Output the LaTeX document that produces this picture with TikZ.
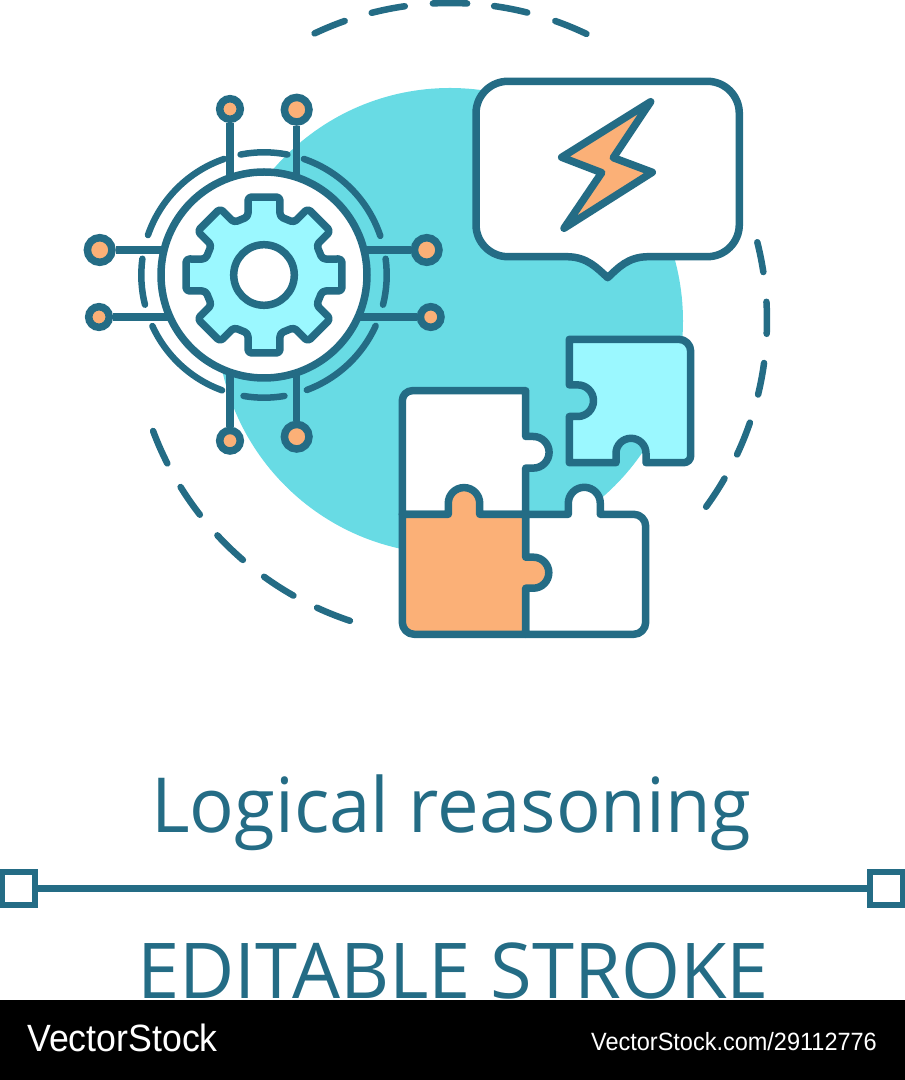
\documentclass[tikz,border=0pt]{standalone}
\usepackage{fontspec}
\setmainfont{Open Sans}
\newfontfamily\titlefont{Open Sans}[FakeStretch=0.977]
\newfontfamily\strokefont{Open Sans}[FakeStretch=0.985]
\newfontfamily\stockfont{Liberation Sans}[FakeStretch=0.94]
\definecolor{tealline}{HTML}{246C85}
\definecolor{discblue}{HTML}{68DBE4}
\definecolor{paleblue}{HTML}{9BF8FF}
\definecolor{softorange}{HTML}{FBB077}
\tikzset{
    outline/.style={draw=tealline, line width=7.5pt, line join=round, line cap=round},
    thinarc/.style={draw=tealline, line width=6.5pt, line cap=round},
    pinbig/.style={circle, draw=tealline, line width=7.5pt, fill=softorange, inner sep=0pt, minimum size=24.6pt},
    pinsmall/.style={circle, draw=tealline, line width=7.5pt, fill=softorange, inner sep=0pt, minimum size=20.6pt},
    handle/.style={rectangle, draw=tealline, line width=6pt, fill=white, inner sep=0pt, minimum size=33pt},
    caption/.style={anchor=base, inner sep=0pt, text=tealline}
}
\begin{document}
\begin{tikzpicture}[x=1pt, y=1pt]
    \useasboundingbox (0,0) rectangle (905,1080);
    \coordinate (gear) at (264,805);
    \coordinate (disc) at (450,759);
    \coordinate (orbit) at (450,760);

    % Disc behind everything
    \fill[discblue] (disc) circle (233);

    % Dashed orbit
    \foreach \a/\b in {115.3/109.4, 104.3/98.2, 93.1/86.9, 82/75.9, 70.6/64.5,
                       14.2/8.7, 3.3/-2.5, -7.8/-13.6, -18.9/-25.1, -30/-36.1,
                       200.5/206.9, 211.8/217.9, 222.8/229.2, 234.1/240.4, 245.2/251.6}
        \draw[thinarc] ([shift={(\a:317)}]orbit) arc (\a:\b:317);

    % Pins around the gear
    \node[pinsmall] (pinTL) at (230,971) {};
    \node[pinbig] (pinTR) at (296.7,970.3) {};
    \node[pinbig] (pinLT) at (99.7,830) {};
    \node[pinsmall] (pinLB) at (99,763) {};
    \node[pinbig] (pinRT) at (426.7,830) {};
    \node[pinsmall] (pinRB) at (430.7,763) {};
    \node[pinsmall] (pinBL) at (230,639.3) {};
    \node[pinbig] (pinBR) at (296.7,643.3) {};
    \foreach \p in {pinTL,pinTR,pinBL,pinBR}
        \draw[outline, line cap=butt] (\p) -- (\p |- gear);
    \foreach \p in {pinLT,pinLB,pinRT,pinRB}
        \draw[outline, line cap=butt] (\p) -- (\p -| gear);

    % Ring and broken arcs
    \node[circle, draw=tealline, line width=7.5pt, fill=white, inner sep=0pt, minimum size=206pt] (ring) at (gear) {};
    \foreach \a/\b in {101/79, 71/18.6, 109/161, 172.4/194, 7.6/-14, -80.4/-99.6, -24.5/-69.6, -155.4/-110}
        \draw[thinarc] ([shift={(\a:122.7)}]gear) arc (\a:\b:122.7);

    % Gear
    \draw[outline, fill=paleblue, rounded corners=3.5pt] ([shift={(112.5:60)}]gear)
        \foreach \a in {90,45,0,-45,-90,-135,-180,-225} {
            -- ([shift={(\a+15.3:60.5)}]gear) -- ([shift={(\a+11.6:79.6)}]gear)
            -- ([shift={(\a-11.6:79.6)}]gear) -- ([shift={(\a-15.3:60.5)}]gear)
        } -- cycle;
    \node[circle, draw=tealline, line width=7.5pt, fill=white, inner sep=0pt, minimum size=60.6pt] (hub) at (gear) {};

    % Speech bubble
    \draw[outline, fill=white] (508,998.7) -- (707.3,998.7) arc (90:0:32) -- (739.3,855.3) arc (0:-90:32)
        -- (648.3,823.3) .. controls (628,823.3) and (618,812) .. (607.7,802.3)
        .. controls (597,812) and (587,823.3) .. (566.7,823.3)
        -- (508,823.3) arc (270:180:32) -- (476,966.7) arc (180:90:32) -- cycle;
    % Bolt
    \draw[outline, fill=softorange] (650.7,978.3) -- (561.7,922.7) -- (601.7,907.3) -- (564,851.7)
        -- (652.3,907.7) -- (613.3,922.3) -- cycle;

    % Puzzle piece, upper right
    \draw[outline, fill=paleblue] (569.3,740.7) -- (678.7,740.7) arc (90:0:12) -- (690.7,624.3) arc (0:-90:7)
        -- (646,617.3) -- (646,626.7) arc (0:180:15) -- (616,617.3) -- (569.3,617.3) -- (569.3,663.5)
        -- (577.7,663.5) arc (-90:90:15.8) -- (569.3,695.1) -- cycle;
    % Puzzle piece, upper left
    \draw[outline, fill=white] (525.7,565.7) -- (525.7,611.9) -- (533.3,611.9) arc (-90:90:15.8)
        -- (525.7,643.5) -- (525.7,689.3) -- (412.3,689.3) arc (90:180:10) -- (402.3,565.7) -- cycle;
    % Puzzle piece, lower right
    \draw[outline, fill=white] (525.7,565.7) -- (568.3,565.7) -- (568.3,576.7) arc (180:0:16) -- (600.3,565.7)
        -- (633.7,565.7) arc (90:0:12) -- (645.7,457.7) arc (0:-90:12) -- (525.7,445.7) -- cycle;
    % Puzzle piece, lower left
    \draw[outline, fill=softorange] (402.3,565.7) -- (448.3,565.7) -- (448.3,576.7) arc (180:0:15.7)
        -- (479.7,565.7) -- (525.7,565.7) -- (525.7,522.8) -- (533.3,522.8) arc (90:-90:15.5)
        -- (525.7,491.8) -- (525.7,445.7) -- (414.3,445.7) arc (270:180:12) -- cycle;

    % Captions and handles
    \node[caption, font=\titlefont\fontsize{76}{76}\selectfont] (title) at (451.5,247) {Logical reasoning};
    \node[handle] (handleL) at (18.5,191.5) {};
    \node[handle] (handleR) at (886.5,191.5) {};
    \draw[outline, line cap=butt] (handleL) -- (handleR);
    \node[caption, font=\strokefont\fontsize{77}{77}\selectfont] (stroke) at (453,81) {EDITABLE STROKE};

    % Stock band
    \fill[black] (0,0) rectangle (905,80);
    \node[anchor=base west, inner sep=0pt, text=white, font=\stockfont\fontsize{38}{38}\selectfont] (brand) at (27,28.5) {VectorStock};
    \node[anchor=base east, inner sep=0pt, text=white, font=\stockfont\fontsize{25}{25}\selectfont] (link) at (877,29) {VectorStock.com/29112776};
\end{tikzpicture}
\end{document}
